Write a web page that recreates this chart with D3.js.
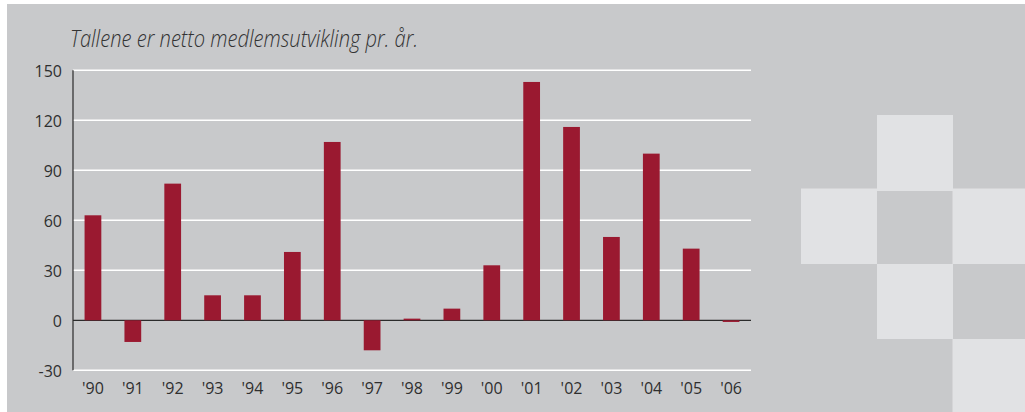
<!DOCTYPE html>
<html>
<head>
<meta charset="utf-8">
<script src="https://cdn.jsdelivr.net/npm/d3@7"></script>
<style>
  html, body { margin: 0; padding: 0; background: #ffffff; }
  svg { display: block; }
</style>
</head>
<body>
<script>
// Data
const categories = ["'90","'91","'92","'93","'94","'95","'96","'97","'98","'99","'00","'01","'02","'03","'04","'05","'06"];
const values = [63, -13, 82, 15, 15, 41, 107, -18, 1, 7, 33, 143, 116, 50, 100, 43, -1];
const yTicks = [-30, 0, 30, 60, 90, 120, 150];
const title = "Tallene er netto medlemsutvikling pr. år.";

const W = 1025, H = 412;
const svg = d3.select("body").append("svg").attr("width", W).attr("height", H);

// background panel
svg.append("rect").attr("x", 7).attr("y", 4).attr("width", W - 7).attr("height", H - 4).attr("fill", "#c8c9cb");

// decorative squares
const sq = [[877,115,76,76],[801,188.5,76,75.5],[952.5,188.5,73,75.5],[877,264,76,75],[952.5,339,73,73]];
svg.selectAll("rect.deco").data(sq).enter().append("rect")
  .attr("class","deco")
  .attr("x", d => d[0]).attr("y", d => d[1]).attr("width", d => d[2]).attr("height", d => d[3])
  .attr("fill", "#e1e2e4");

const x = d3.scaleBand().domain(categories).range([73, 751]).paddingInner(0.58).paddingOuter(0.29);
const y = d3.scaleLinear().domain([-30, 150]).range([370.3, 70.3]);

// gridlines (white) except zero
svg.append("g").selectAll("line").data(yTicks.filter(t => t !== 0)).enter().append("line")
  .attr("x1", 73).attr("x2", 751)
  .attr("y1", d => y(d)).attr("y2", d => y(d))
  .attr("stroke", "#ffffff").attr("stroke-width", 1.6);

// zero line
svg.append("line").attr("x1", 73).attr("x2", 751).attr("y1", y(0)).attr("y2", y(0))
  .attr("stroke", "#2b2b2b").attr("stroke-width", 1.3);

// bars
svg.append("g").selectAll("rect").data(values).enter().append("rect")
  .attr("x", (d, i) => x(categories[i]))
  .attr("width", x.bandwidth())
  .attr("y", d => y(Math.max(0, d)))
  .attr("height", d => Math.abs(y(d) - y(0)))
  .attr("fill", "#9a1930");

// y axis line
svg.append("line").attr("x1", 73).attr("x2", 73).attr("y1", y(150)).attr("y2", y(-30))
  .attr("stroke", "#2b2b2b").attr("stroke-width", 1.2);

// y tick labels via axis
const yAxis = d3.axisLeft(y).tickValues(yTicks).tickSize(0).tickPadding(11).tickFormat(d => String(d));
const gy = svg.append("g").attr("transform", "translate(73,0)").call(yAxis);
gy.select(".domain").remove();
gy.selectAll("text").attr("font-family", "'Open Sans', sans-serif").attr("font-size", "16px")
  .attr("fill", "#2f2f2f").attr("dy", "0.36em");

// x labels via axis
const xAxis = d3.axisBottom(x).tickSize(0).tickPadding(0);
const gx = svg.append("g").attr("transform", "translate(0,378)").call(xAxis);
gx.select(".domain").remove();
gx.selectAll("text").attr("font-family", "'Open Sans', sans-serif").attr("font-size", "16px")
  .attr("fill", "#2f2f2f").attr("dy", "1em");

// title
svg.append("text").attr("x", 70).attr("y", 46.5)
  .attr("font-family", "'Open Sans', sans-serif").attr("font-style", "italic").attr("font-weight", 300)
  .attr("font-size", "23.5px").attr("fill", "#333333")
  .attr("textLength", 348).attr("lengthAdjust", "spacingAndGlyphs")
  .text(title);
</script>
</body>
</html>
